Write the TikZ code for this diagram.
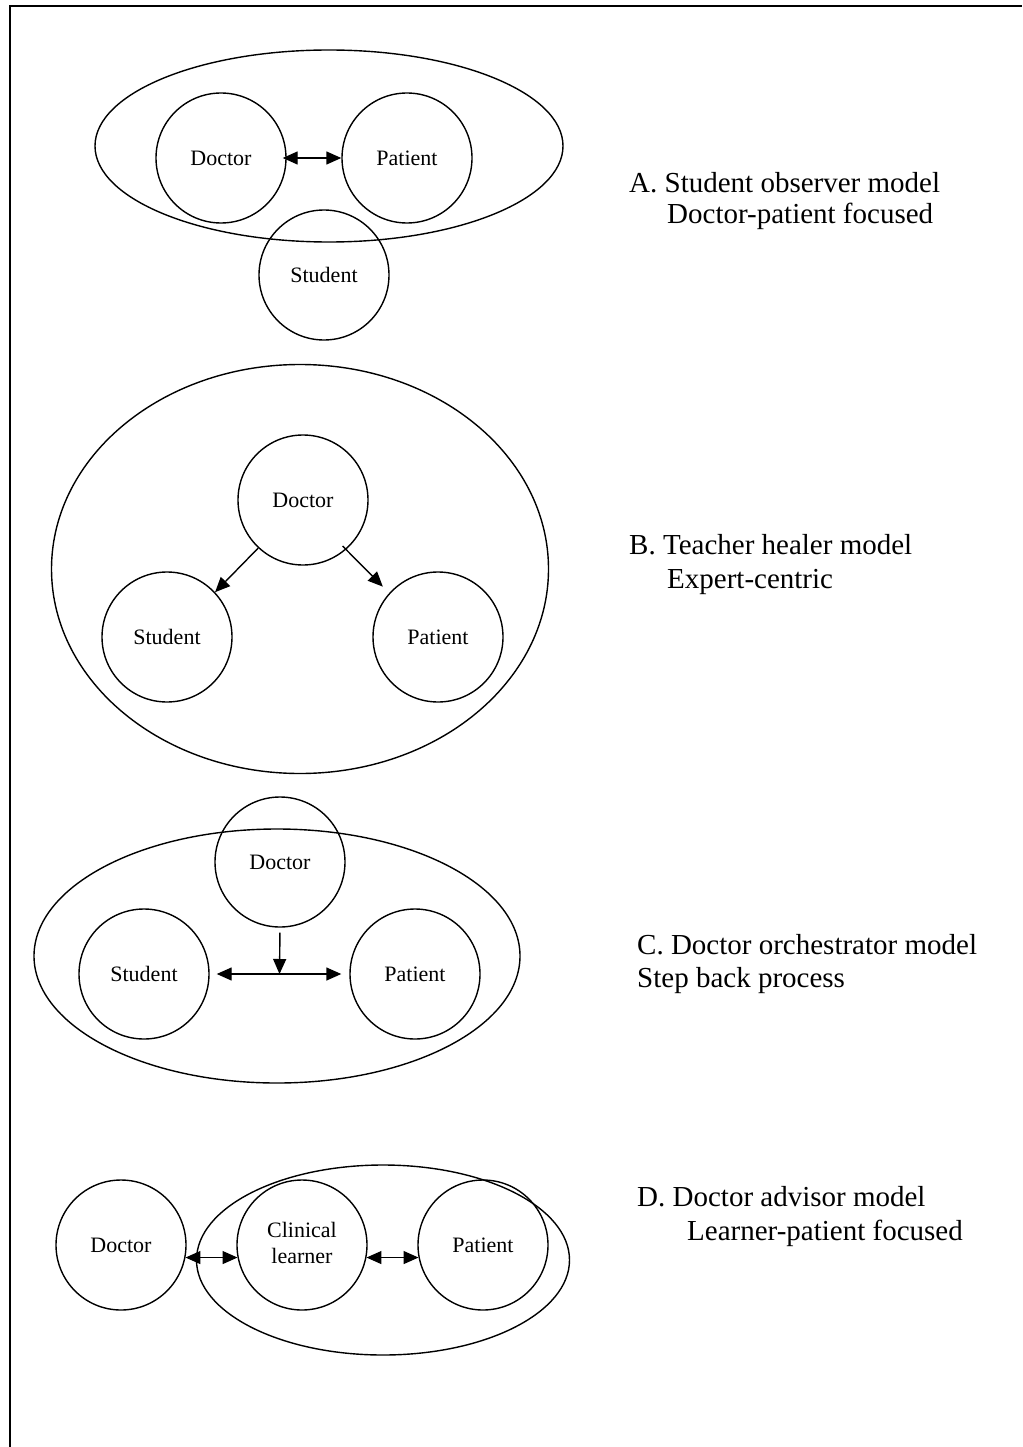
\documentclass[tikz,border=0pt]{standalone}
\usepackage{fontspec}
\setmainfont{Liberation Serif}
\usetikzlibrary{arrows.meta,shapes.geometric}
\begin{document}
\begin{tikzpicture}[x=1pt,y=-1pt,
  person/.style={circle,draw,line width=1.4pt,minimum size=130pt,inner sep=0pt,
    font=\fontsize{22}{26}\selectfont,align=center},
  group/.style={ellipse,draw,line width=1.4pt,inner sep=0pt},
  arr/.style={line width=1.4pt,-{Triangle[length=15pt,width=13pt]}},
  darr/.style={line width=1.4pt,{Triangle[length=15pt,width=13pt]}-{Triangle[length=15pt,width=13pt]}},
  title/.style={anchor=base west,inner sep=0pt,font=\fontsize{29}{30}\selectfont}]
\useasboundingbox (0,0) rectangle (1022,1447);
\draw[line width=1.8pt] (10,1447) -- (10,6) -- (1022,6);

% A
\node[group,minimum width=468pt,minimum height=192pt] (agrp) at (329,146) {};
\node[person] (adoc) at (221,158) {Doctor};
\node[person] (apat) at (407,158) {Patient};
\node[person] (astu) at (324,275) {Student};
\draw[darr,shorten <=-4pt] (adoc.east) -- (apat.west);
\node[title] (at1) at (629,193) {A. Student observer model};
\node[title] (at2) at (667,224) {Doctor-patient focused};

% B
\node[group,minimum width=497pt,minimum height=409pt] (bgrp) at (300,569) {};
\node[person] (bdoc) at (303,500) {Doctor};
\node[person] (bstu) at (167,637) {Student};
\node[person] (bpat) at (438,637) {Patient};
\draw[arr] (bdoc.227) -- (bstu.43);
\draw[arr,shorten <=-5pt,shorten >=9pt] (bdoc.311) -- (bpat.138);
\node[title] (bt1) at (629,554) {B. Teacher healer model};
\node[title] (bt2) at (667,588) {Expert-centric};

% C
\node[group,minimum width=486pt,minimum height=254pt] (cgrp) at (277,956) {};
\node[person] (cdoc) at (280,862) {Doctor};
\node[person] (cstu) at (144,974) {Student};
\node[person] (cpat) at (415,974) {Patient};
\draw[darr,shorten <=7pt,shorten >=8pt] (cstu.east) -- (cpat.west);
\path (cstu.east) -- (cpat.west) coordinate[pos=0.5] (cmid);
\draw[arr,shorten <=5pt] (cdoc.south) -- (cmid);
\node[title] (ct1) at (637,954) {C. Doctor orchestrator model};
\node[title] (ct2) at (637,987) {Step back process};

% D
\node[group,minimum width=373pt,minimum height=190pt] (dgrp) at (383,1260) {};
\node[person] (ddoc) at (121,1245) {Doctor};
\node[person] (dcl) at (302,1245) {\raisebox{-11pt}{\begin{tabular}{@{}c@{}}Clinical\\learner\end{tabular}}};
\node[person] (dpat) at (483,1245) {Patient};
\draw[darr] (ddoc.-11) -- (dcl.191);
\draw[darr] (dcl.-11) -- (dpat.191);
\node[title] (dt1) at (637,1206) {D. Doctor advisor model};
\node[title] (dt2) at (687,1240) {Learner-patient focused};
\end{tikzpicture}
\end{document}
